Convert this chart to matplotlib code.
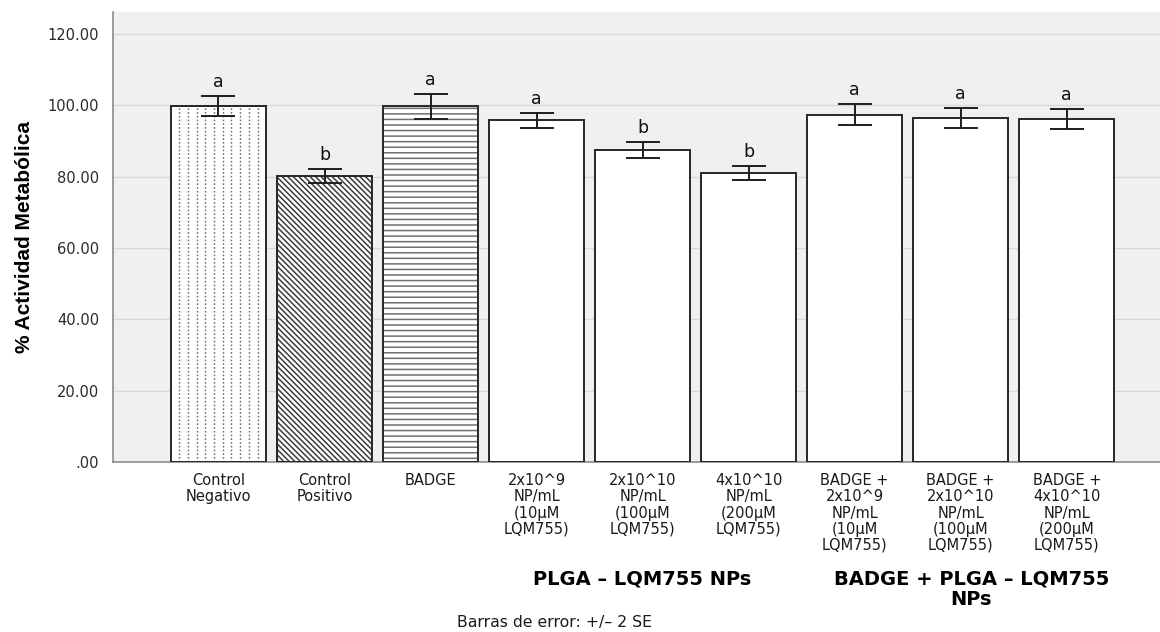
import matplotlib
matplotlib.use("Agg")
import matplotlib.pyplot as plt
import numpy as np
from matplotlib.ticker import FuncFormatter

# Datos: % actividad metabólica (media) y barra de error (2 SE)
grupos = [
    "Control\nNegativo",
    "Control\nPositivo",
    "BADGE",
    "2x10^9\nNP/mL\n(10µM\nLQM755)",
    "2x10^10\nNP/mL\n(100µM\nLQM755)",
    "4x10^10\nNP/mL\n(200µM\nLQM755)",
    "BADGE +\n2x10^9\nNP/mL\n(10µM\nLQM755)",
    "BADGE +\n2x10^10\nNP/mL\n(100µM\nLQM755)",
    "BADGE +\n4x10^10\nNP/mL\n(200µM\nLQM755)",
]
medias = [99.9, 80.2, 99.7, 95.8, 87.5, 81.1, 97.4, 96.4, 96.2]
error_2se = [2.8, 2.0, 3.5, 2.1, 2.3, 1.9, 3.0, 2.85, 2.85]
letras = ["a", "b", "a", "a", "b", "b", "a", "a", "a"]
tramas = [None, "\\\\\\\\\\\\", "---", None, None, None, None, None, None]

titulos_grupo = ["PLGA – LQM755 NPs", "BADGE + PLGA – LQM755\nNPs"]
centro_grupo = [4, 7]

plt.rcParams["hatch.linewidth"] = 1.1

fig = plt.figure(figsize=(11.6, 6.32), dpi=100)
ax = fig.add_axes([0.0974, 0.269, 0.9026, 0.712])
ax.set_facecolor("#f0f0f0")

x = np.arange(len(grupos))
ancho = 0.9

# relleno con trama (color gris) y luego el contorno negro encima
barras = ax.bar(x, medias, width=ancho, color="white", edgecolor="#6a6a6a",
                linewidth=0, zorder=2)
for b, t in zip(barras, tramas):
    if t:
        b.set_hatch(t)
        b.set_edgecolor("#3c3c3c" if "\\" in t else "#707070")
ax.bar(x, medias, width=ancho, fill=False, edgecolor="#262626",
       linewidth=1.4, zorder=3)

# Control negativo: líneas verticales punteadas
b0 = barras[0]
xs = np.linspace(b0.get_x(), b0.get_x() + b0.get_width(), 12)[1:-1]
lv = ax.vlines(xs, 0, medias[0], colors="#6e6e6e", linewidth=1.0,
               linestyles=(0, (1.2, 1.5)), zorder=2.5)
lv.set_clip_path(b0)

ax.errorbar(x, medias, yerr=error_2se, fmt="none", ecolor="#1e1e1e",
            elinewidth=1.4, capsize=12, capthick=1.4, zorder=4)

for xi, m, e, l in zip(x, medias, error_2se, letras):
    ax.text(xi, m + e + 1.4, l, ha="center", va="bottom", fontsize=12.5,
            color="#111111", zorder=5)

ax.set_xlim(-0.995, 8.88)
ax.set_ylim(0, 126.2)
ax.set_yticks(np.arange(0, 121, 20))
ax.yaxis.set_major_formatter(
    FuncFormatter(lambda v, p: ".00" if v == 0 else f"{v:.2f}"))
ax.set_xticks(x)
ax.set_xticklabels(grupos, fontsize=10.5, linespacing=1.1, color="#1a1a1a")
ax.tick_params(axis="both", length=0)
ax.tick_params(axis="x", pad=8)
ax.tick_params(axis="y", labelsize=10.5, labelcolor="#2a2a2a", pad=10)

ax.grid(axis="y", color="#d9d9d9", linewidth=1.0, zorder=0)
ax.set_axisbelow(True)
for s in ["top", "right"]:
    ax.spines[s].set_visible(False)
for s in ["left", "bottom"]:
    ax.spines[s].set_color("#8c8c8c")
    ax.spines[s].set_linewidth(1.2)

ax.set_ylabel("% Actividad Metabólica", fontsize=15, fontweight="bold",
              family="Liberation Sans", labelpad=10)

for t, c in zip(titulos_grupo, centro_grupo):
    ax.text(c + (0.1 if "\n" in t else 0), -0.238, t,
            transform=ax.get_xaxis_transform(), ha="center", va="top",
            fontsize=14, fontweight="bold", linespacing=1.1)

fig.text(0.478, 0.003, "Barras de error: +/– 2 SE", ha="center",
         va="bottom", fontsize=11.3, color="#1a1a1a")

fig.savefig("out.png", dpi=100)
plt.close(fig)
